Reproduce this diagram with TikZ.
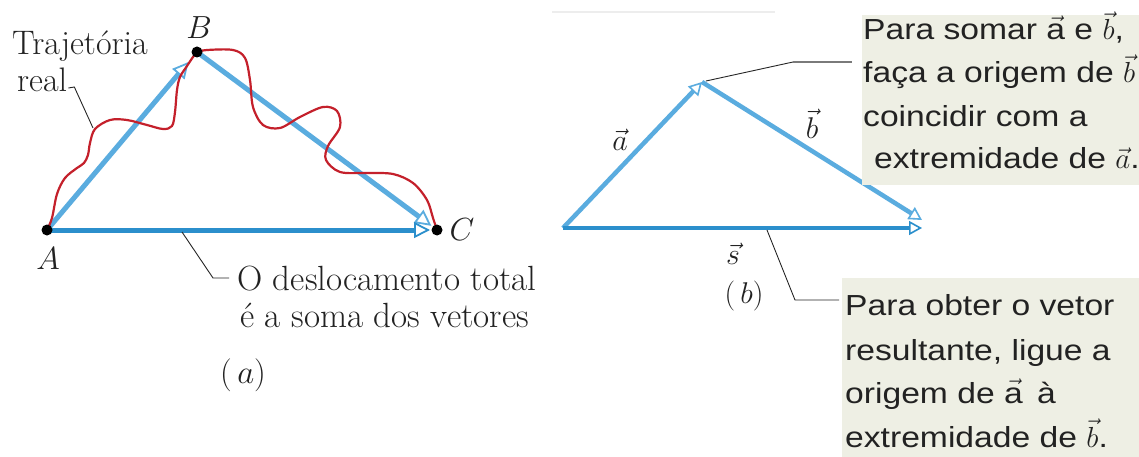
\RequirePackage{fix-cm}
\documentclass[tikz,border=0pt]{standalone}
\usepackage{amsmath}
\usepackage{fontspec}
\newfontfamily\boxfont[FakeStretch=1.16]{Liberation Sans}
\usetikzlibrary{arrows.meta,calc}
\definecolor{vblue}{HTML}{5AACDF}
\definecolor{hblue}{HTML}{2B8FCC}
\definecolor{tred}{HTML}{C4202B}
\definecolor{boxfill}{HTML}{EEEFE4}
\definecolor{leadgray}{HTML}{7A7A7A}
\definecolor{ink}{HTML}{222222}
\newcommand\bvec[1]{\ensuremath{\vec{#1}}}
\tikzset{
  dot/.style={circle,fill=black,inner sep=0pt,minimum size=11pt},
  vecA/.style={vblue,line width=5pt,-{Triangle[open,length=16pt,width=16pt,line width=1.8pt]}},
  vecH/.style={hblue,line width=5pt,-{Triangle[open,length=16pt,width=16pt,line width=1.8pt]}},
  vecB/.style={vblue,line width=4.5pt,-{Triangle[open,length=13pt,width=14pt,line width=1.6pt]}},
  vecS/.style={hblue,line width=4.5pt,-{Triangle[open,length=13pt,width=14pt,line width=1.6pt]}},
  traj/.style={tred,line width=2.2pt,line join=round},
  lead/.style={black!85,line width=0.9pt},
  leadg/.style={leadgray,line width=1.6pt},
  serif/.style={inner sep=0pt,text=ink,font=\fontsize{34}{38}\selectfont},
  mlab/.style={inner sep=0pt,text=ink,font=\fontsize{32}{36}\selectfont},
  vlab/.style={inner sep=0pt,text=ink,font=\fontsize{30}{34}\selectfont},
  boxst/.style={fill=boxfill,draw=none,inner sep=0pt,anchor=north west},
  btext/.style={inner sep=0pt,anchor=base west,text=ink,font=\boxfont\fontsize{29}{34}\selectfont},
}
\begin{document}
\begin{tikzpicture}[x=1pt,y=-1pt]
\useasboundingbox (0,0) rectangle (1139,457);
\fill[white] (0,0) rectangle (1139,457);
% faint line at top
\draw[line width=1.5pt,black!7] (552,12) -- (775,12);

% ---------- part (a) ----------
\coordinate (A) at (47,230);
\coordinate (B) at (197,52);
\coordinate (C) at (437,230);
\draw[vecA,shorten >=13pt] (A) -- (B);
\draw[vecA,shorten >=7pt] (B) -- (C);
\draw[vecH,shorten >=7pt] (A) -- (C);
\draw[traj] plot[smooth,tension=0.55] coordinates {
 (47,230) (52,218) (57,194) (65,178) (77,168) (84,163) (88,155) (90,143)
 (95,129) (110,120) (127,120) (147,125) (163,129) (172,126) (175,112)
 (177,90) (180,77) (187,66) (193,57) (197,52)};
\draw[traj] plot[smooth,tension=0.55] coordinates {
 (197,52) (207,50) (233,50) (245,58) (250,80) (253,107) (263,125) (280,128)
 (300,117) (323,107) (337,111) (340,127) (328,146) (326,160) (340,172)
 (367,173) (393,174) (413,183) (427,200) (433,218) (437,230)};
\node[dot] (Adot) at (A) {};
\node[dot] (Bdot) at (B) {};
\node[dot] (Cdot) at (C) {};
\node[mlab] (LA) at (48,259) {$A$};
\node[mlab] (LB) at (199,28) {$B$};
\node[mlab] (LC) at (462,230) {$C$};

\node[serif,anchor=base west] (traj1) at (12,55) {Trajetória};
\node[serif,anchor=base west] (traj2) at (17,92) {real};
\coordinate (rc1) at (93,128);
\draw[lead] ([shift={(1,-4)}]traj2.base east) -- ++(6,-1) -- (rc1);

\node[serif,anchor=base west,font=\fontsize{35}{38}\selectfont] (deslo1) at (237,290) {O deslocamento total};
\node[serif,anchor=base west,font=\fontsize{35}{38}\selectfont] (deslo2) at (240,327) {é a soma dos vetores};
\coordinate (la1) at (182,232);
\coordinate (la2) at (213,278);
\draw[lead] (la1) -- (la2) -- ([xshift=-8pt]deslo1.west |- la2);
\node[mlab,font=\fontsize{33}{36}\selectfont] (capa) at (243,375) {$(\,a)$};

% ---------- part (b) ----------
\coordinate (P) at (563,228);
\coordinate (Q) at (702,82);
\coordinate (R) at (922,220);
\coordinate (S) at (922,228);
\draw[vecB] (P) -- (Q);
\draw[vecB] (Q) -- (R);
\draw[vecS] (P) -- (S);
\node[vlab] (va) at (620,140) {$\vec{a}$};
\node[vlab] (vb) at (812,124) {$\vec{b}$};
\node[vlab] (vs) at (733,254) {$\vec{s}$};
\node[mlab,font=\fontsize{30}{34}\selectfont] (capb) at (744,296) {$(\,b)$};

\node[boxst,minimum width=290pt,minimum height=170pt] (box1) at (862,15) {};
\node[boxst,minimum width=300pt,minimum height=185pt] (box2) at (842,278) {};

\node[btext] (t11) at (863,40) {Para somar \bvec{\text{a}} e \bvec{b},};
\node[btext] (t12) at (863,83) {faça a origem de \bvec{b}};
\node[btext] (t13) at (863,127) {coincidir com a};
\node[btext] (t14) at (874,168) {extremidade de \bvec{a}.};

\node[btext] (t21) at (845,315) {Para obter o vetor};
\node[btext] (t22) at (845,360) {resultante, ligue a};
\node[btext] (t23) at (845,403) {origem de \bvec{\text{a}}\, à};
\node[btext] (t24) at (845,447) {extremidade de \bvec{b}.};

\coordinate (lq) at (706,81);
\coordinate (lb1) at (793,62);
\draw[lead] (lq) -- (lb1);
\draw[leadg,shorten >=10pt] (lb1) -- (lb1 -| box1.west);
\coordinate (ls) at (767,230);
\coordinate (lb2) at (795,300);
\draw[lead] (ls) -- (lb2) -- ([xshift=-3pt]lb2 -| box2.west);
\end{tikzpicture}
\end{document}
